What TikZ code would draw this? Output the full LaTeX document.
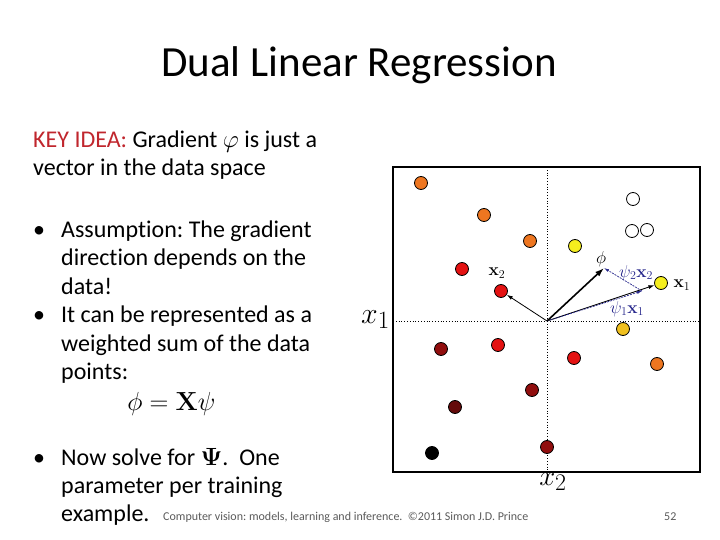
\documentclass[tikz,border=0pt]{standalone}
\usepackage{amsmath}
\usepackage[no-math]{fontspec}
\setmainfont{Carlito}[Ligatures={NoCommon}]
\usetikzlibrary{arrows.meta}
\frenchspacing

\definecolor{keyred}{RGB}{192,38,45}
\definecolor{ptorange}{RGB}{238,118,32}
\definecolor{ptyellow}{RGB}{245,238,30}
\definecolor{ptgold}{RGB}{240,192,30}
\definecolor{ptred}{RGB}{228,18,18}
\definecolor{ptdark}{RGB}{145,14,14}
\definecolor{ptdeep}{RGB}{100,10,10}
\definecolor{psiblue}{RGB}{40,40,140}
\definecolor{footgray}{RGB}{90,90,90}

\tikzset{
  dot/.style={circle, draw=black, line width=0.8pt, minimum size=13pt, inner sep=0pt, fill=#1},
  body/.style={anchor=base west, inner sep=0pt, font=\fontsize{24}{28}\selectfont},
  vec/.style={-{Latex[length=6pt,width=4pt]}, line width=0.8pt},
  psivec/.style={-{Latex[length=5pt,width=3pt]}, psiblue, line width=0.7pt, dash pattern=on 2pt off 1pt}
}

\begin{document}
\begin{tikzpicture}[x=1pt, y=-1pt]
  \useasboundingbox (0,0) rectangle (720,540);

  % title
  \node[anchor=base, inner sep=0pt, font=\fontsize{43}{48}\selectfont] (title) at (359,77) {Dual Linear Regression};

  % left column text
  \node[body] (key1) at (33,148) {\textcolor{keyred}{KEY IDEA:} Gradient $\varphi$ is just a};
  \node[body] (key2) at (33,176) {vector in the data space};

  \node[body] (b1) at (33,237) {\textbullet};
  \node[body] (a1) at (61,237) {Assumption: The gradient};
  \node[body] (a2) at (61,265) {direction depends on the};
  \node[body] (a3) at (61,294) {data!};
  \node[body] (b2) at (33,322) {\textbullet};
  \node[body] (c1) at (61,322) {It can be represented as a};
  \node[body] (c2) at (61,351) {weighted sum of the data};
  \node[body] (c3) at (61,379) {points:};
  \node[anchor=base west, inner sep=0pt, scale=1.26, font=\fontsize{20.74}{24}\selectfont] (eq) at (127,410) {$\phi = \mathbf{X}\psi$};
  \node[body] (b3) at (33,465) {\textbullet};
  \node[body] (d1) at (61,465) {Now solve for $\boldsymbol{\Psi}$.\ \ One};
  \node[body] (d2) at (61,493) {parameter per training};
  \node[body] (d3) at (61,521) {example.};

  % footer
  \node[anchor=base west, inner sep=0pt, font=\fontsize{12}{14}\selectfont, text=footgray] (foot) at (163,520)
    {Computer vision: models, learning and inference.\ \ \textcopyright2011 Simon J.D. Prince};
  \node[anchor=base west, inner sep=0pt, font=\fontsize{12}{14}\selectfont, text=footgray] (page) at (664,520) {52};

  % plot frame and axes
  \draw[line width=2pt] (393,167) rectangle (700,472);
  \draw[dotted, line width=0.8pt] (547,167) -- (547,472);
  \draw[dotted, line width=0.8pt] (393,321) -- (700,321);
  \node[anchor=base east, inner sep=0pt, scale=1.2, font=\fontsize{24.88}{28}\selectfont] (ax1) at (390,323) {$x_1$};
  \node[anchor=base, inner sep=0pt, scale=1.15, font=\fontsize{24.88}{28}\selectfont] (ax2) at (553,485) {$x_2$};

  % data points
  \foreach \n/\px/\py/\c in {p1/421/183/ptorange, p2/484/215/ptorange, p3/530/241/ptorange,
      p4/575/246/ptyellow, p5/633/199/white, p6/632/231/white, p7/647/230/white,
      p8/462/269/ptred, p9/501/291/ptred, p10/661/283/ptyellow, p11/623/329/ptgold,
      p12/441/349/ptdark, p13/498/345/ptred, p14/574/358/ptred, p15/657/364/ptorange,
      p16/532/390/ptdark, p17/455/407/ptdeep, p18/432/453/black, p19/547/447/ptdark}
    \node[dot=\c] (\n) at (\px,\py) {};

  % vectors
  \coordinate (O) at (547,321);
  \coordinate (F) at (604,268);
  \coordinate (P) at (642,291);
  \draw[vec] (O) -- (p10);
  \draw[vec] (O) -- (p9);
  \draw[psivec] (O) -- (P);
  \draw[psivec] (P) -- (F);
  \draw[-{Latex[length=9pt,width=6pt]}, line width=1.6pt] (O) -- (F);

  \node[font=\fontsize{17.28}{20}\selectfont] (phi) at (601,259) {$\phi$};
  \node[font=\fontsize{17.28}{20}\selectfont] (lx2) at (497,273) {$\mathbf{x}_2$};
  \node[font=\fontsize{17.28}{20}\selectfont] (lx1) at (682,285) {$\mathbf{x}_1$};
  \node[font=\fontsize{17.28}{20}\selectfont, text=psiblue] (l2) at (636,273) {$\psi_2\mathbf{x}_2$};
  \node[font=\fontsize{17.28}{20}\selectfont, text=psiblue] (l1) at (627,309) {$\psi_1\mathbf{x}_1$};
\end{tikzpicture}
\end{document}
